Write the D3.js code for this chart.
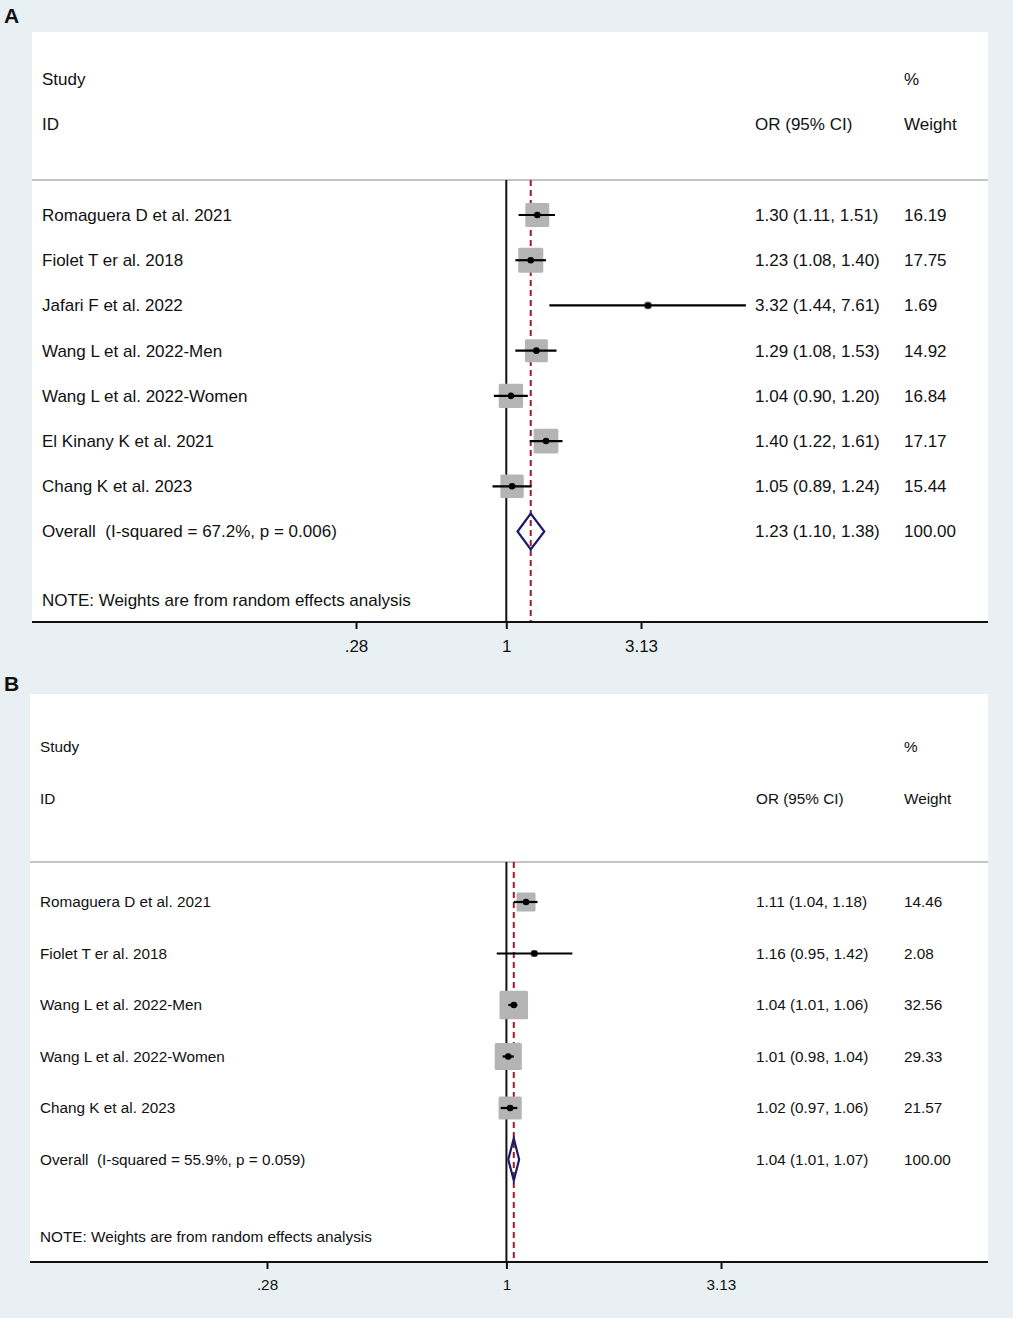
<!DOCTYPE html>
<html>
<head>
<meta charset="utf-8">
<script src="https://cdn.jsdelivr.net/npm/d3@7"></script>
<style>
  html, body { margin: 0; padding: 0; background: #e8f0f3; }
  svg { display: block; }
  text { font-family: "Liberation Sans", Arial, sans-serif; fill: #111; white-space: pre; }
</style>
</head>
<body>
<svg id="chart" width="1013" height="1318"></svg>
<script>
// ---------- DATA ----------
const studiesA = ["Romaguera D et al. 2021", "Fiolet T er al. 2018", "Jafari F et al. 2022",
  "Wang L et al. 2022-Men", "Wang L et al. 2022-Women", "El Kinany K et al. 2021", "Chang K et al. 2023"];
const orA   = [1.30, 1.23, 3.32, 1.29, 1.04, 1.40, 1.05];
const lowA  = [1.11, 1.08, 1.44, 1.08, 0.90, 1.22, 0.89];
const highA = [1.51, 1.40, 7.61, 1.53, 1.20, 1.61, 1.24];
const weightA = [16.19, 17.75, 1.69, 14.92, 16.84, 17.17, 15.44];
const overallA = { label: "Overall  (I-squared = 67.2%, p = 0.006)", or: 1.23, low: 1.10, high: 1.38, weight: 100.00 };

const studiesB = ["Romaguera D et al. 2021", "Fiolet T er al. 2018", "Wang L et al. 2022-Men",
  "Wang L et al. 2022-Women", "Chang K et al. 2023"];
const orB   = [1.11, 1.16, 1.04, 1.01, 1.02];
const lowB  = [1.04, 0.95, 1.01, 0.98, 0.97];
const highB = [1.18, 1.42, 1.06, 1.04, 1.06];
const weightB = [14.46, 2.08, 32.56, 29.33, 21.57];
const overallB = { label: "Overall  (I-squared = 55.9%, p = 0.059)", or: 1.04, low: 1.01, high: 1.07, weight: 100.00 };

const tickValues = [0.28, 1, 3.13];
const tickLabels = [".28", "1", "3.13"];
const noteText = "NOTE: Weights are from random effects analysis";

// ---------- DRAW ----------
const svg = d3.select("#chart");
const f2 = d3.format(".2f");

function drawPanel(cfg, studies, or, low, high, weight, overall) {
  const g = svg.append("g");
  g.append("rect").attr("x", cfg.left).attr("y", cfg.top)
    .attr("width", cfg.right - cfg.left).attr("height", cfg.axisY - cfg.top)
    .attr("fill", "#ffffff");
  svg.append("text").attr("x", 4).attr("y", cfg.letterY)
    .attr("font-size", 21).attr("font-weight", "bold").text(cfg.letter);

  const x = d3.scaleLog().domain([tickValues[0], tickValues[2]]).range(cfg.xRange);
  const n = studies.length;
  const y = d3.scaleLinear().domain([0, n]).range([cfg.row0, cfg.rowOverall]);
  const fs = cfg.fontSize;
  const dy = fs * 0.35;

  g.append("text").attr("x", cfg.textX).attr("y", cfg.studyY + dy).attr("font-size", fs).text("Study");
  g.append("text").attr("x", cfg.textX).attr("y", cfg.idY + dy).attr("font-size", fs).text("ID");
  g.append("text").attr("x", cfg.orX).attr("y", cfg.idY + dy).attr("font-size", fs).text("OR (95% CI)");
  g.append("text").attr("x", cfg.wX).attr("y", cfg.studyY + dy).attr("font-size", fs).text("%");
  g.append("text").attr("x", cfg.wX).attr("y", cfg.idY + dy).attr("font-size", fs).text("Weight");

  g.append("line").attr("x1", cfg.left).attr("x2", cfg.right)
    .attr("y1", cfg.sepY).attr("y2", cfg.sepY)
    .attr("stroke", "#c4c4c4").attr("stroke-width", 2);

  // null line
  g.append("line").attr("x1", x(1)).attr("x2", x(1))
    .attr("y1", cfg.sepY).attr("y2", cfg.axisY)
    .attr("stroke", "#111").attr("stroke-width", 2);

  // overall dashed line (behind boxes)
  g.append("line").attr("x1", x(overall.or)).attr("x2", x(overall.or))
    .attr("y1", cfg.sepY).attr("y2", cfg.axisY)
    .attr("stroke", "#9e1b2a").attr("stroke-width", 2)
    .attr("stroke-dasharray", "6,4");

  const idx = d3.range(n);
  g.selectAll("rect.box").data(idx).join("rect").attr("class", "box")
    .attr("x", i => x(or[i]) - cfg.boxK * Math.sqrt(weight[i]) / 2)
    .attr("y", i => y(i) - cfg.boxK * Math.sqrt(weight[i]) / 2)
    .attr("width", i => cfg.boxK * Math.sqrt(weight[i]))
    .attr("height", i => cfg.boxK * Math.sqrt(weight[i]))
    .attr("rx", 1.5)
    .attr("fill", "#b4b4b4");

  g.selectAll("line.ci").data(idx).join("line").attr("class", "ci")
    .attr("x1", i => x(low[i])).attr("x2", i => x(high[i]))
    .attr("y1", i => y(i)).attr("y2", i => y(i))
    .attr("stroke", "#000").attr("stroke-width", 2.2);
  g.selectAll("circle.pt").data(idx).join("circle").attr("class", "pt")
    .attr("cx", i => x(or[i])).attr("cy", i => y(i)).attr("r", 3.3)
    .attr("fill", "#000");

  const yo = y(n);
  g.append("path")
    .attr("d", `M${x(overall.low)},${yo} L${x(overall.or)},${yo - cfg.diamondH} L${x(overall.high)},${yo} L${x(overall.or)},${yo + cfg.diamondH} Z`)
    .attr("fill", "none").attr("stroke", "#1b1b6b").attr("stroke-width", 2.2);

  g.selectAll("text.lab").data(idx).join("text").attr("class", "lab")
    .attr("x", cfg.textX).attr("y", i => y(i) + dy).attr("font-size", fs).text(i => studies[i]);
  g.selectAll("text.orv").data(idx).join("text").attr("class", "orv")
    .attr("x", cfg.orX).attr("y", i => y(i) + dy).attr("font-size", fs)
    .text(i => `${f2(or[i])} (${f2(low[i])}, ${f2(high[i])})`);
  g.selectAll("text.wv").data(idx).join("text").attr("class", "wv")
    .attr("x", cfg.wX).attr("y", i => y(i) + dy).attr("font-size", fs)
    .text(i => f2(weight[i]));
  g.append("text").attr("x", cfg.textX).attr("y", yo + dy).attr("font-size", fs).text(overall.label);
  g.append("text").attr("x", cfg.orX).attr("y", yo + dy).attr("font-size", fs)
    .text(`${f2(overall.or)} (${f2(overall.low)}, ${f2(overall.high)})`);
  g.append("text").attr("x", cfg.wX).attr("y", yo + dy).attr("font-size", fs).text(f2(overall.weight));

  g.append("text").attr("x", cfg.textX).attr("y", cfg.noteY + dy).attr("font-size", fs).text(noteText);

  const axis = d3.axisBottom(x).tickValues(tickValues)
    .tickFormat((d, i) => tickLabels[i]).tickSize(7).tickPadding(cfg.tickPad);
  const ax = svg.append("g").attr("transform", `translate(0,${cfg.axisY})`).call(axis);
  ax.select(".domain").remove();
  ax.selectAll(".tick line").attr("stroke", "#111").attr("stroke-width", 2);
  ax.selectAll(".tick text").attr("font-size", fs).attr("fill", "#111")
    .style("font-family", '"Liberation Sans", Arial, sans-serif');
  svg.append("line").attr("x1", cfg.left).attr("x2", cfg.right)
    .attr("y1", cfg.axisY).attr("y2", cfg.axisY)
    .attr("stroke", "#111").attr("stroke-width", 2);
}

drawPanel({
  letter: "A", letterY: 23, left: 32, right: 988, top: 32, axisY: 622,
  xRange: [356, 641], row0: 215, rowOverall: 531.5,
  studyY: 79, idY: 124, sepY: 180, noteY: 600,
  textX: 42, orX: 755, wX: 904, fontSize: 17, boxK: 5.95, diamondH: 18, tickPad: 11
}, studiesA, orA, lowA, highA, weightA, overallA);

drawPanel({
  letter: "B", letterY: 691, left: 30, right: 988, top: 694, axisY: 1262,
  xRange: [267, 721], row0: 902, rowOverall: 1159.5,
  studyY: 747, idY: 799, sepY: 862, noteY: 1237,
  textX: 40, orX: 756, wX: 904, fontSize: 15.3, boxK: 5.0, diamondH: 21, tickPad: 10
}, studiesB, orB, lowB, highB, weightB, overallB);
</script>
</body>
</html>
